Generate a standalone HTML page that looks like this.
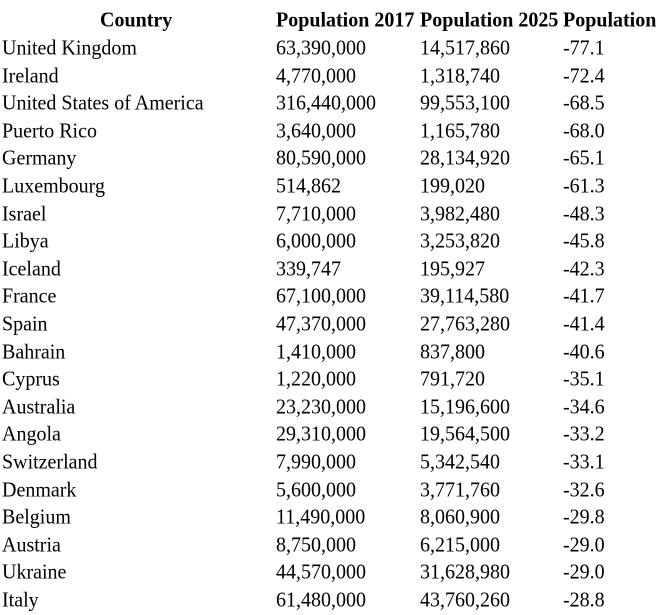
<!DOCTYPE html>
<html><head><meta charset="utf-8"><style>
body{margin:0;background:#fff;width:660px;height:615px;overflow:hidden;position:relative;font-family:"Liberation Serif","Times New Roman",Times,serif;font-size:20px;color:#000}
.c{position:absolute;white-space:nowrap;line-height:22px;font-family:"Liberation Serif","Times New Roman",Times,serif;transform-origin:0 50%;transform:scaleY(1.08)}
.h{font-weight:bold}
</style></head><body>
<div id="t"></div>
<script>
const countries=["United Kingdom","Ireland","United States of America","Puerto Rico","Germany","Luxembourg","Israel","Libya","Iceland","France","Spain","Bahrain","Cyprus","Australia","Angola","Switzerland","Denmark","Belgium","Austria","Ukraine","Italy"];
const pop2017=["63,390,000","4,770,000","316,440,000","3,640,000","80,590,000","514,862","7,710,000","6,000,000","339,747","67,100,000","47,370,000","1,410,000","1,220,000","23,230,000","29,310,000","7,990,000","5,600,000","11,490,000","8,750,000","44,570,000","61,480,000"];
const pop2025=["14,517,860","1,318,740","99,553,100","1,165,780","28,134,920","199,020","3,982,480","3,253,820","195,927","39,114,580","27,763,280","837,800","791,720","15,196,600","19,564,500","5,342,540","3,771,760","8,060,900","6,215,000","31,628,980","43,760,260"];
const change=["-77.1","-72.4","-68.5","-68.0","-65.1","-61.3","-48.3","-45.8","-42.3","-41.7","-41.4","-40.6","-35.1","-34.6","-33.2","-33.1","-32.6","-29.8","-29.0","-29.0","-28.8"];
const t=document.getElementById('t');
function cell(txt,x,y,cls,name){const d=document.createElement('div');d.className='c '+(cls||'');d.textContent=txt;d.style.left=x+'px';d.style.top=y+'px';


t.appendChild(d);return d;}
cell("Country",100,9,'h','header-country');
cell("Population 2017",276,9,'h','header-population-2017');
cell("Population 2025",420,9,'h','header-population-2025');
cell("Population",563,9,'h','header-population-change');
countries.forEach((c,i)=>{const y=37+i*27.6;
cell(c,2,y,'','country-cell');
cell(pop2017[i],276,y,'','population-2017-cell');
cell(pop2025[i],420,y,'','population-2025-cell');
cell(change[i],563,y,'','population-change-cell');});
</script>
</body></html>
